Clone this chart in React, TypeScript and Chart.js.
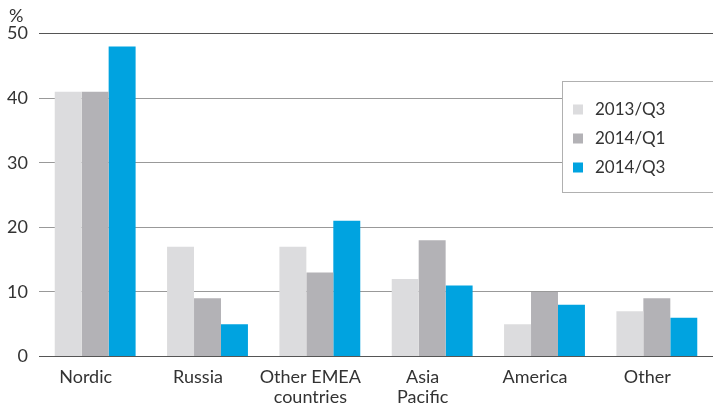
import React, { useEffect, useRef } from "react";
import { Chart, registerables } from "chart.js";

Chart.register(...registerables);

const categories: (string | string[])[] = ["Nordic", "Russia", ["Other EMEA", "countries"], ["Asia", "Pacific"], "America", "Other"];
const series2013Q3 = [41, 17, 17, 12, 5, 7];
const series2014Q1 = [41, 9, 13, 18, 10, 9];
const series2014Q3 = [48, 5, 21, 11, 8, 6];
const seriesLabels = ["2013/Q3", "2014/Q1", "2014/Q3"];
const yTicks = [0, 10, 20, 30, 40, 50];

const FONT = "Lato, 'Open Sans', sans-serif";
const TEXT = "#333333";
const WEIGHT = 400;

const legendPlugin = {
  id: "boxLegend",
  afterDraw(chart: any) {
    const ctx = chart.ctx;
    ctx.save();
    const x = 562.5, y = 81.5, w = 160, h = 111;
    ctx.fillStyle = "#ffffff";
    ctx.fillRect(x, y, w, h);
    ctx.strokeStyle = "#b0b0b0";
    ctx.lineWidth = 1;
    ctx.strokeRect(x, y, w, h);
    ctx.font = `${WEIGHT} 17px ${FONT}`;
    ctx.textBaseline = "middle";
    chart.data.datasets.forEach((ds: any, i: number) => {
      const cy = 109.5 + i * 29;
      ctx.fillStyle = ds.backgroundColor;
      ctx.fillRect(573, cy - 5, 10, 10);
      ctx.fillStyle = TEXT;
      ctx.fillText(ds.label, 595, cy);
    });
    ctx.restore();
  },
};

const percentPlugin = {
  id: "percentLabel",
  afterDraw(chart: any) {
    const ctx = chart.ctx;
    ctx.save();
    ctx.font = `${WEIGHT} 18px ${FONT}`;
    ctx.fillStyle = TEXT;
    ctx.textBaseline = "middle";
    ctx.fillText("%", 9, 16.5);
    ctx.restore();
  },
};

export default function App() {
  const ref = useRef<HTMLCanvasElement>(null);
  useEffect(() => {
    document.body.style.margin = "0";
    const colors = ["#dcdcde", "#b3b2b6", "#00a3e0"];
    const chart = new Chart(ref.current!, {
      type: "bar",
      data: {
        labels: categories as any,
        datasets: [series2013Q3, series2014Q1, series2014Q3].map((d, i) => ({
          label: seriesLabels[i],
          data: d,
          backgroundColor: colors[i],
          borderWidth: 0,
          barPercentage: 1,
          categoryPercentage: 0.72,
        })),
      },
      options: {
        animation: false,
        responsive: false,
        maintainAspectRatio: false,
        layout: { padding: { top: 33.5, left: 0, right: 0, bottom: 0 } },
        plugins: { legend: { display: false }, tooltip: { enabled: false }, title: { display: false } },
        scales: {
          x: {
            grid: { display: false, drawTicks: false },
            border: { display: false },
            ticks: {
              color: TEXT,
              font: { family: FONT, size: 18, weight: WEIGHT as any, lineHeight: 1.1 },
              padding: 10.5,
              labelOffset: -9.5,
              maxRotation: 0,
              autoSkip: false,
            },
            afterFit: (s: any) => { s.height = 46.5; },
          },
          y: {
            min: 0,
            max: 50,
            afterBuildTicks: (s: any) => { s.ticks = yTicks.map((v) => ({ value: v })); },
            grid: {
              drawTicks: false,
              color: (c: any) => (c.tick && (c.tick.value === 0 || c.tick.value === 50) ? "#555" : "#999"),
              lineWidth: 1,
            },
            border: { display: false },
            ticks: { color: TEXT, font: { family: FONT, size: 18, weight: WEIGHT as any }, padding: 11 },
            afterFit: (s: any) => { s.width = 39; },
          },
        },
      },
      plugins: [legendPlugin, percentPlugin],
    });
    return () => chart.destroy();
  }, []);
  return (
    <div style={{ position: "absolute", left: 0, top: 0, width: 713, height: 403 }}>
      <canvas ref={ref} width={713} height={403} style={{ width: 713, height: 403 }} />
    </div>
  );
}
